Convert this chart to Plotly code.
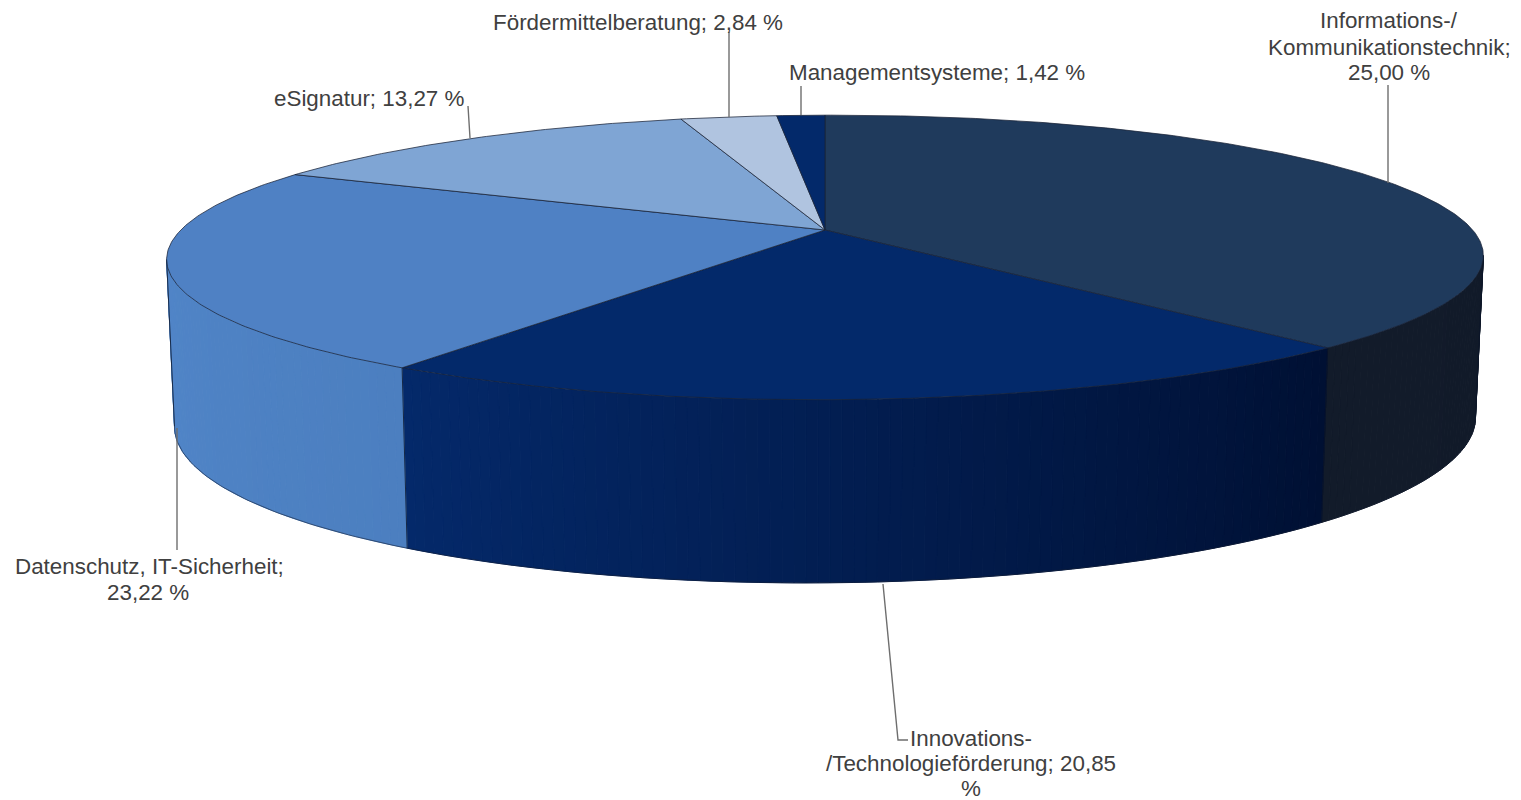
import math
import plotly.graph_objects as go

# Data
categories = ["Informations-/Kommunikationstechnik", "Innovations-/Technologieförderung",
              "Datenschutz, IT-Sicherheit", "eSignatur", "Fördermittelberatung", "Managementsysteme"]
label_values = ["25,00 %", "20,85 %", "23,22 %", "13,27 %", "2,84 %", "1,42 %"]
# Angular share each slice actually occupies in the picture (percent of the circle)
drawn_shares = [38.4, 20.85, 23.22, 13.27, 2.84, 1.42]
top_colors = ["#1f3a5c", "#03296a", "#4f81c4", "#7fa5d4", "#b0c4e0", "#03296a"]
rim_left_colors = ["#121b2a", "#04296a", "#5085c8", "#7fa5d4", "#b0c4e0", "#03296a"]
rim_right_colors = ["#111a29", "#001033", "#4c7fc0", "#7fa5d4", "#b0c4e0", "#03296a"]

# Projection of the disc
CX, AY = 825.0, 230.0
B, A, K = 646.0, 137.0, 0.193
BOTTOM_Y, BOTTOM_XS, BOTTOM_YS = 391.0, 0.988, 1.13
TOP_SHEAR, BOTTOM_SHEAR = -0.003, -0.007
PAGE_OFFSET = 8  # default page margin of the written html


def project(theta, bottom=False):
    x, y = math.sin(theta), math.cos(theta)
    w = 1 + K * y
    if bottom:
        px = CX + BOTTOM_XS * B * x / w
        return px, BOTTOM_Y - BOTTOM_YS * A * y / w + BOTTOM_SHEAR * (px - CX)
    px = CX + B * x / w
    return px, AY - A * y / w + TOP_SHEAR * (px - CX)


def hex_mix(c1, c2, t):
    a = [int(c1[i:i + 2], 16) for i in (1, 3, 5)]
    b = [int(c2[i:i + 2], 16) for i in (1, 3, 5)]
    return "#%02x%02x%02x" % tuple(round(a[i] + (b[i] - a[i]) * t) for i in range(3))


fig = go.Figure()
bounds = [0.0]
for v in drawn_shares:
    bounds.append(bounds[-1] + v / sum(drawn_shares) * 2 * math.pi)

# The rim is visible between the two horizontal extremes of the disc
rim_start = math.acos(-K)
rim_end = 2 * math.pi - rim_start

for i, cat in enumerate(categories):
    t0, t1 = max(bounds[i], rim_start), min(bounds[i + 1], rim_end)
    if t1 <= t0:
        continue
    n = max(2, int((t1 - t0) / 0.015))
    for j in range(n):
        a0 = t0 + (t1 - t0) * j / n
        a1 = t0 + (t1 - t0) * (j + 1) / n
        c = hex_mix(rim_right_colors[i], rim_left_colors[i], (j + 0.5) / n)
        p = [project(a0), project(a1), project(a1, True), project(a0, True), project(a0)]
        fig.add_trace(go.Scatter(x=[q[0] for q in p], y=[q[1] for q in p], mode="lines", fill="toself",
                                 fillcolor=c, line=dict(color=c, width=1), hoverinfo="skip", showlegend=False))

# Rim edges between slices and silhouettes
for a in [rim_start, rim_end] + [b for b in bounds if rim_start < b < rim_end]:
    p = [project(a), project(a, True)]
    fig.add_trace(go.Scatter(x=[q[0] for q in p], y=[q[1] for q in p], mode="lines",
                             line=dict(color="rgba(10,20,40,0.8)", width=1),
                             hoverinfo="skip", showlegend=False))
pts = [project(rim_start + (rim_end - rim_start) * j / 200, True) for j in range(201)]
fig.add_trace(go.Scatter(x=[q[0] for q in pts], y=[q[1] for q in pts], mode="lines",
                         line=dict(color="rgba(20,30,50,0.55)", width=1), hoverinfo="skip", showlegend=False))

# Top slices
for i, cat in enumerate(categories):
    n = max(4, int((bounds[i + 1] - bounds[i]) / 0.01))
    arc = [project(bounds[i] + (bounds[i + 1] - bounds[i]) * j / n) for j in range(n + 1)]
    xs = [CX] + [q[0] for q in arc] + [CX]
    ys = [AY] + [q[1] for q in arc] + [AY]
    fig.add_trace(go.Scatter(x=xs, y=ys, mode="lines", fill="toself", fillcolor=top_colors[i],
                             line=dict(color="rgba(25,35,55,0.75)", width=1),
                             name=cat, text=label_values[i], hoverinfo="name+text", showlegend=False))

# Leader lines
leaders = [
    ([1388, 1388], [85, 183]),
    ([883, 898, 908], [584, 740, 740]),
    ([177, 177], [428, 550]),
    ([468, 470], [106, 138]),
    ([729, 729], [32, 117]),
    ([801, 801], [86, 115]),
]
for lx, ly in leaders:
    fig.add_trace(go.Scatter(x=lx, y=ly, mode="lines", line=dict(color="#6e6e6e", width=1.4),
                             hoverinfo="skip", showlegend=False))

# Labels, one text per line
label_lines = [
    ("Informations-/", 1389, 20), ("Kommunikationstechnik;", 1389, 47), (label_values[0], 1389, 72),
    ("Innovations-", 971, 738), ("/Technologieförderung; 20,85", 971, 763), ("%", 971, 788),
    ("Datenschutz, IT-Sicherheit;", 149, 566), (label_values[2], 148, 592),
    ("eSignatur; " + label_values[3], 369, 98),
    ("Fördermittelberatung; " + label_values[4], 638, 22),
    ("Managementsysteme; " + label_values[5], 937, 72),
]
for text, x, y in label_lines:
    fig.add_annotation(x=x, y=y, xref="x", yref="y", text=text, showarrow=False, align="center",
                       xanchor="center", yanchor="middle",
                       font=dict(family="Liberation Sans", size=22.4, color="#404040"))

fig.update_layout(width=1521 - PAGE_OFFSET, height=800 - PAGE_OFFSET, margin=dict(l=0, r=0, t=0, b=0),
                  paper_bgcolor="white", plot_bgcolor="white", showlegend=False,
                  xaxis=dict(range=[PAGE_OFFSET, 1521], visible=False, fixedrange=True),
                  yaxis=dict(range=[800, PAGE_OFFSET], visible=False, fixedrange=True))
fig.write_html("out.html")
